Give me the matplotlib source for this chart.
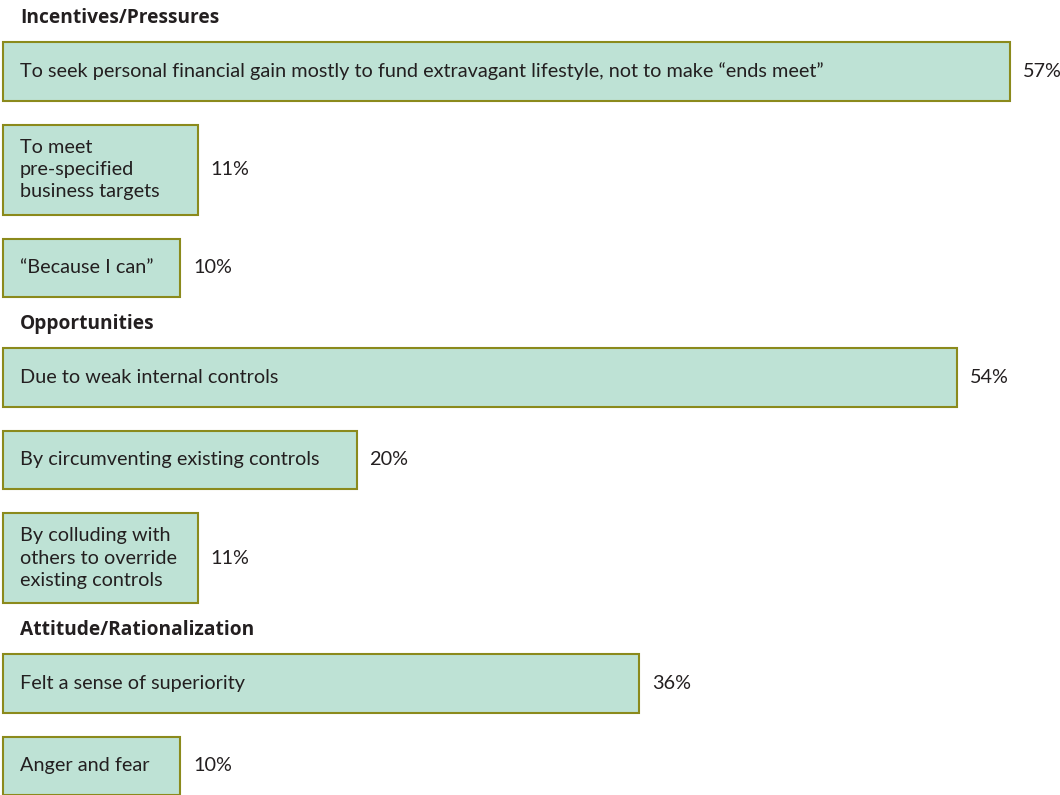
import matplotlib
matplotlib.use("Agg")
import matplotlib.pyplot as plt

# Survey results: share of respondents per reason, grouped by fraud-triangle element
groups = ["Incentives/Pressures", "Opportunities", "Attitude/Rationalization"]
reasons = [
    ["To seek personal financial gain mostly to fund extravagant lifestyle, not to make \u201cends meet\u201d",
     "To meet\npre-specified\nbusiness targets",
     "\u201cBecause I can\u201d"],
    ["Due to weak internal controls",
     "By circumventing existing controls",
     "By colluding with\nothers to override\nexisting controls"],
    ["Felt a sense of superiority",
     "Anger and fear"],
]
values = [
    [57, 11, 10],
    [54, 20, 11],
    [36, 10],
]

plt.rcParams["font.family"] = ["Lato", "DejaVu Sans"]
TEXT = "#231f20"
FILL = "#bee2d5"
EDGE = "#8b8a1c"

W, H = 1060, 795
PX_PER_PCT = 17.65
X0 = 3.5  # pixel position of 0%

fig = plt.figure(figsize=(W / 100, H / 100), dpi=100)
ax = fig.add_axes([0, 0, 1, 1])
ax.set_xlim(-X0 / PX_PER_PCT, (W - X0) / PX_PER_PCT)
ax.set_ylim(H, 0)
ax.axis("off")

px = 1 / PX_PER_PCT  # one pixel in percent units
y = 42
for g, name in enumerate(groups):
    ax.text(16.5 * px, y - 24, name, fontsize=13.8, fontweight="bold", color=TEXT,
            family=["Open Sans", "DejaVu Sans"], ha="left", va="center")
    for label, v in zip(reasons[g], values[g]):
        lines = label.count("\n") + 1
        h = 58.5 if lines == 1 else 90
        ax.barh(y + h / 2, v, height=h, left=0, color=FILL, edgecolor=EDGE,
                linewidth=1.5)
        ax.text(16.5 * px, y + h / 2, label, fontsize=14.3, color=TEXT,
                ha="left", va="center", linespacing=1.38)
        ax.text(v + 13 * px, y + h / 2, f"{v}%", fontsize=14.3, color=TEXT,
                ha="left", va="center")
        y += h + 24
    y += 27

fig.savefig("out.png", dpi=100)
